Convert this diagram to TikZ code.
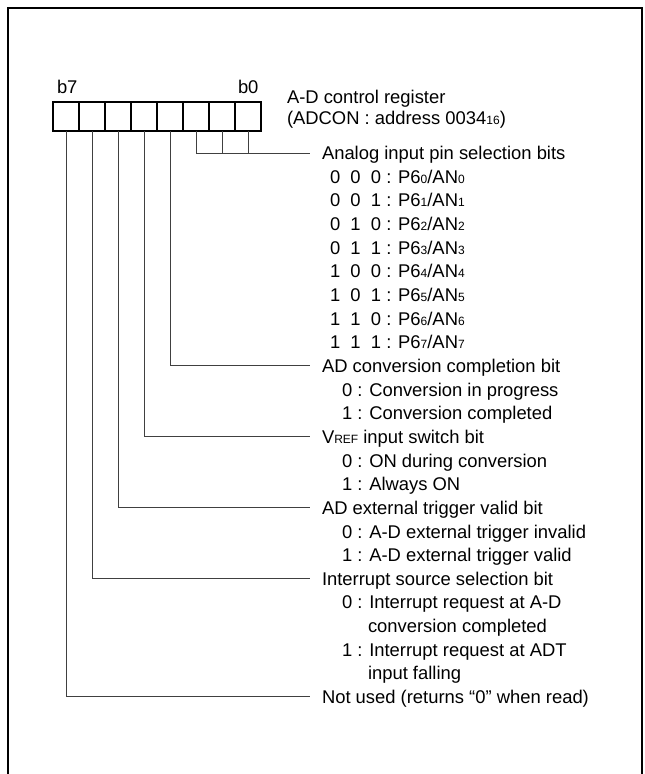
\documentclass[tikz,border=0pt]{standalone}
\usepackage{fontspec}
\setmainfont{Liberation Sans}
\usetikzlibrary{calc}
\newcommand\sm[1]{{\fontsize{12}{12}\selectfont #1}}
\tikzset{
  txt/.style={anchor=base west, inner sep=0pt, outer sep=0pt, font=\fontsize{18.4}{22}\selectfont},
  cell/.style={draw, line width=1.4pt, minimum width=26pt, minimum height=29pt, inner sep=0pt, outer sep=0pt},
  conn/.style={draw=black!75, line width=1pt},
  frame/.style={draw, line width=2pt}
}
\begin{document}
\begin{tikzpicture}[x=1pt,y=-1pt]
\path[use as bounding box] (0,0) rectangle (645,774);
\clip (0,0) rectangle (645,774);
\draw[frame] (8,8) rectangle (642,800);
% register cells
\foreach \b in {7,...,0}{
  \node[cell] (c\b) at ({66+26*(7-\b)},116.5) {};
}
\draw[line width=2.4pt] (c7.north west) rectangle (c0.south east);
\node[txt] (lb7) at (57,93.6) {b7};
\node[txt] (lb0) at (238,93.6) {b0};
\node[txt] (t1) at (287,103.6) {A-D control register};
\node[txt] (t2) at (287,124.6) {(ADCON : address 0034\sm{16})};
% rows
\newcommand\rowy[1]{{159.6+23.65*#1}}
\node[txt] (h0) at (322,\rowy{0}) {Analog input pin selection bits};
\node[txt] (r1) at (330,\rowy{1}) {0\ \ 0\ \ 0 : P6\sm{0}/AN\sm{0}};
\node[txt] (r2) at (330,\rowy{2}) {0\ \ 0\ \ 1 : P6\sm{1}/AN\sm{1}};
\node[txt] (r3) at (330,\rowy{3}) {0\ \ 1\ \ 0 : P6\sm{2}/AN\sm{2}};
\node[txt] (r4) at (330,\rowy{4}) {0\ \ 1\ \ 1 : P6\sm{3}/AN\sm{3}};
\node[txt] (r5) at (330,\rowy{5}) {1\ \ 0\ \ 0 : P6\sm{4}/AN\sm{4}};
\node[txt] (r6) at (330,\rowy{6}) {1\ \ 0\ \ 1 : P6\sm{5}/AN\sm{5}};
\node[txt] (r7) at (330,\rowy{7}) {1\ \ 1\ \ 0 : P6\sm{6}/AN\sm{6}};
\node[txt] (r8) at (330,\rowy{8}) {1\ \ 1\ \ 1 : P6\sm{7}/AN\sm{7}};
\node[txt] (h9) at (322,\rowy{9}) {AD conversion completion bit};
\node[txt] (r10) at (342,\rowy{10}) {0 : Conversion in progress};
\node[txt] (r11) at (342,\rowy{11}) {1 : Conversion completed};
\node[txt] (h12) at (322,\rowy{12}) {V\sm{REF} input switch bit};
\node[txt] (r13) at (342,\rowy{13}) {0 : ON during conversion};
\node[txt] (r14) at (342,\rowy{14}) {1 : Always ON};
\node[txt] (h15) at (322,\rowy{15}) {AD external trigger valid bit};
\node[txt] (r16) at (342,\rowy{16}) {0 : A-D external trigger invalid};
\node[txt] (r17) at (342,\rowy{17}) {1 : A-D external trigger valid};
\node[txt] (h18) at (322,\rowy{18}) {Interrupt source selection bit};
\node[txt] (r19) at (342,\rowy{19}) {0 : Interrupt request at A-D};
\node[txt] (r20) at (368,\rowy{20}) {conversion completed};
\node[txt] (r21) at (342,\rowy{21}) {1 : Interrupt request at ADT};
\node[txt] (r22) at (368,\rowy{22}) {input falling};
\node[txt] (h23) at (322,\rowy{23}) {Not used (returns “0” when read)};
% connector ends
\foreach \k in {0,9,12,15,18,23}{
  \coordinate (e\k) at (310,{153+23.65*\k});
}
\draw[conn] (c2.south) |- (e0);
\draw[conn] (c1.south) -- (c1.south |- e0);
\draw[conn] (c0.south) -- (c0.south |- e0);
\draw[conn] (c3.south) |- (e9);
\draw[conn] (c4.south) |- (e12);
\draw[conn] (c5.south) |- (e15);
\draw[conn] (c6.south) |- (e18);
\draw[conn] (c7.south) |- (e23);
\end{tikzpicture}
\end{document}
